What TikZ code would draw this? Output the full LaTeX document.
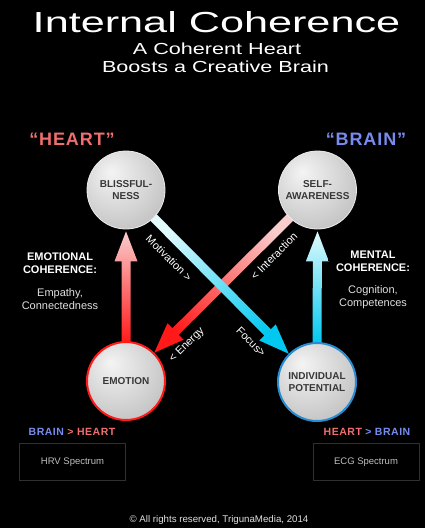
\documentclass[tikz,border=0pt]{standalone}
\usepackage{graphicx}
\usepackage{fontspec}
\setmainfont{Liberation Sans}
\usepackage{tikz}
\usetikzlibrary{calc}

\definecolor{heartred}{RGB}{240,110,110}
\definecolor{brainblue}{RGB}{120,140,240}
\definecolor{orbhi}{RGB}{244,244,244}
\definecolor{orbmid}{RGB}{212,212,212}
\definecolor{orblo}{RGB}{150,150,150}
\definecolor{orbtext}{RGB}{55,55,55}
\definecolor{redhot}{RGB}{255,25,25}
\definecolor{redpale}{RGB}{250,205,205}
\definecolor{cyanhot}{RGB}{0,200,240}
\definecolor{cyanpale}{RGB}{225,250,252}
\definecolor{boxline}{RGB}{48,48,48}

\pgfdeclareradialshading{orb}{\pgfpoint{-10bp}{12bp}}{%
  color(0bp)=(orbhi); color(22bp)=(orbmid); color(62bp)=(orblo)}

\pgfdeclarelayer{bg}
\pgfdeclarelayer{flow}
\pgfsetlayers{bg,flow,main}

% fat shaded arrow: start, tip, shading
\newcommand\fatarrow[3]{%
  \coordinate (hb) at ($(#2)!30pt!(#1)$);
  \shade[#3] ($(#1)!4.5pt!90:(#2)$) -- ($(hb)!4.5pt!-90:(#1)$)
    -- ($(hb)!11.5pt!-90:(#1)$) -- (#2) -- ($(hb)!11.5pt!90:(#1)$)
    -- ($(hb)!4.5pt!90:(#1)$) -- ($(#1)!4.5pt!-90:(#2)$) -- cycle;}

\begin{document}
\begin{tikzpicture}[x=1pt, y=-1pt,
  orb/.style={circle, minimum size=78pt, inner sep=0pt, shade, shading=orb,
    draw=white!85!gray, line width=0.8pt, align=center, text=orbtext,
    font=\fontsize{10}{11.5}\selectfont\bfseries},
  headline/.style={text=white, align=center, font=\fontsize{11}{13}\selectfont\bfseries},
  bodyline/.style={text=white!88!black, align=center, font=\fontsize{11}{13}\selectfont},
  flowlabel/.style={text=white, font=\fontsize{11}{12}\selectfont},
  specbox/.style={draw=boxline, line width=0.8pt, minimum width=106pt, minimum height=37pt,
    text=white!75!black, font=\fontsize{9.5}{11}\selectfont},
  tagline/.style={anchor=base, font=\fontsize{10.5}{12}\selectfont\bfseries\addfontfeature{LetterSpace=5}}]

	\begin{pgfonlayer}{bg}
	\fill[black] (0,0) rectangle (425,528);
	\end{pgfonlayer}
	\useasboundingbox (0,0) rectangle (425,528);

	% title
	\node[anchor=base, text=white, font=\fontsize{29}{32}\selectfont] (title) at (216.5,32)
	{\scalebox{1.49}[1]{Internal Coherence}};
	\node[anchor=base, text=white, font=\fontsize{16}{18}\selectfont] (sub1) at (217,54.3)
	{\scalebox{1.35}[1]{A Coherent Heart}};
	\node[anchor=base, text=white, font=\fontsize{16}{18}\selectfont] (sub2) at (215.5,72.5)
	{\scalebox{1.35}[1]{Boosts a Creative Brain}};

	% heart and brain
	\node[anchor=base, text=heartred, font=\fontsize{18}{20}\selectfont\bfseries\addfontfeature{LetterSpace=5}]
	(heart) at (72,145) {“HEART”};
	\node[anchor=base, text=brainblue, font=\fontsize{18}{20}\selectfont\bfseries\addfontfeature{LetterSpace=5}]
	(brain) at (366,145) {“BRAIN”};

	% orbs
	\node[orb] (bliss) at (126,190) {BLISSFUL-\\NESS};
	\node[orb] (self) at (317.5,190) {SELF-\\AWARENESS};
	\node[orb, draw=redhot, line width=2pt] (emo) at (126,381) {EMOTION};
	\node[orb, draw={rgb,255:red,40;green,140;blue,210}, line width=2pt] (indiv) at (317,382)
	{INDIVIDUAL\\POTENTIAL};

	% arrows
	\begin{pgfonlayer}{flow}
	\coordinate (emoTop) at ($(emo.center)!0.96!(emo.north)$);
	\coordinate (blissTip) at ($(bliss.south)+(0,2)$);
	\coordinate (indivTop) at ($(indiv.center)!0.96!(indiv.north)$);
	\coordinate (selfTip) at ($(self.south)+(0,2)$);
	\coordinate (blissOut) at ($(bliss.center)!0.85!(bliss.-45)$);
	\coordinate (selfOut) at ($(self.center)!0.85!(self.-135)$);

	\fatarrow{emoTop}{blissTip}{top color=redpale, bottom color=redhot}
	\fatarrow{indivTop}{selfTip}{top color=cyanpale, bottom color=cyanhot}
	\fatarrow{selfOut}{emo.45}{top color=redpale, bottom color=redhot, shading angle=-45}
	\fatarrow{blissOut}{indiv.135}{top color=cyanpale, bottom color=cyanhot, shading angle=45}
	\end{pgfonlayer}

	% arrow labels
	\node[flowlabel, rotate=-45] (motiv) at (169,258) {Motivation >};
	\node[flowlabel, rotate=45] (inter) at (274,256) {< Interaction};
	\node[flowlabel, rotate=45] (energy) at (187,345) {< Energy};
	\node[flowlabel, rotate=-45] (focus) at (251,342) {Focus>};

	% coherence texts
	\node[headline] (emoHead) at (60,263) {EMOTIONAL\\COHERENCE:};
	\node[bodyline] (emoBody) at (60,299) {Empathy,\\Connectedness};
	\node[headline] (menHead) at (373,261) {MENTAL\\COHERENCE:};
	\node[bodyline] (menBody) at (373,297) {Cognition,\\Competences};

	% spectra
	\node[tagline] (leftTag) at (72,435)
	{\textcolor{brainblue}{BRAIN} \textcolor{heartred}{> HEART}};
	\node[tagline] (rightTag) at (367,435)
	{\textcolor{heartred}{HEART} \textcolor{brainblue}{> BRAIN}};
	\node[specbox] (hrv) at (72.5,462) {HRV Spectrum};
	\node[specbox] (ecg) at (366,462) {ECG Spectrum};

	\node[anchor=base, text=white!88!black, font=\fontsize{9.7}{11}\selectfont] (copy) at (219,522)
	{© All rights reserved, TrigunaMedia, 2014};

\end{tikzpicture}
\end{document}
